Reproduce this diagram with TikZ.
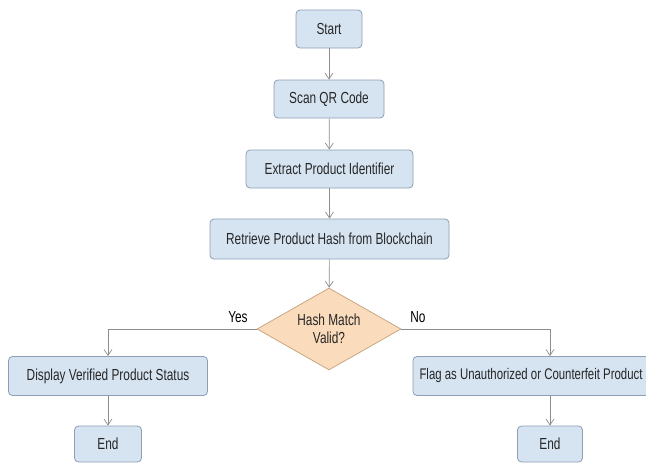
\documentclass[tikz,border=0pt]{standalone}
\usepackage{fontspec}
\newfontfamily\boxfont{Liberation Sans}[FakeStretch=0.74]
\usepackage{tikz}
\usetikzlibrary{shapes.geometric, arrows.meta}
\definecolor{boxfill}{HTML}{D6E4F2}
\definecolor{boxline}{HTML}{8E9EB4}
\definecolor{decfill}{HTML}{FADBBC}
\definecolor{decline}{HTML}{C9A683}
\definecolor{edgecol}{HTML}{8C8C8C}
\tikzstyle{process} = [rectangle, rounded corners=4pt, draw=boxline, fill=boxfill, line width=0.8pt, minimum height=38pt, inner sep=0pt, text=black!85]
\tikzstyle{decision} = [diamond, draw=decline, fill=decfill, line width=0.8pt, aspect=1.75, minimum width=144pt, minimum height=82pt, inner sep=0pt, align=center, text=black!85]
\tikzstyle{arrow} = [edgecol, line width=0.7pt, -{Straight Barb[length=6pt,width=8pt]}]

\begin{document}
\begin{tikzpicture}[x=1pt, y=-1pt, every node/.style={font=\boxfont\fontsize{16}{18.5}\selectfont}]
        \useasboundingbox (0,0) rectangle (646,463);
        \node[process, minimum width=66pt] (S) at (329,29) {Start};
        \node[process, minimum width=110pt] (Q) at (329,99) {Scan QR Code};
        \node[process, minimum width=167pt] (E) at (329.5,169) {Extract Product Identifier};
        \node[process, minimum width=239pt, minimum height=40pt] (R) at (329.5,239) {Retrieve Product Hash from Blockchain};
        \node[decision] (H) at (329,329) {Hash Match\\Valid?};
        \node[process, minimum width=199pt, minimum height=39pt] (V) at (108,376) {Display Verified Product Status};
        \node[process, minimum width=67pt, minimum height=36pt] (L) at (108,444) {End};
        \node[process, minimum width=236pt, minimum height=39pt,
              font=\boxfont\fontsize{15.4}{18}\selectfont] (F) at (531,376) {Flag as Unauthorized or Counterfeit Product};
        \node[process, minimum width=65pt, minimum height=36pt] (N) at (550,444) {End};

        % Branch labels
        \node (Y) at (238,317) {Yes};
        \node (X) at (418,317) {No};

        % Edges
        \draw[arrow] (S) -- (Q);
        \draw[arrow] (Q) -- (E);
        \draw[arrow] (E) -- (R);
        \draw[arrow] (R) -- (H);
        \draw[arrow] (H.west) -| (V.north);
        \draw[arrow] (H.east) -| (N |- F.north);
        \draw[arrow] (V) -- (L);
        \draw[arrow] (N |- F.south) -- (N);
      \end{tikzpicture}
\end{document}
